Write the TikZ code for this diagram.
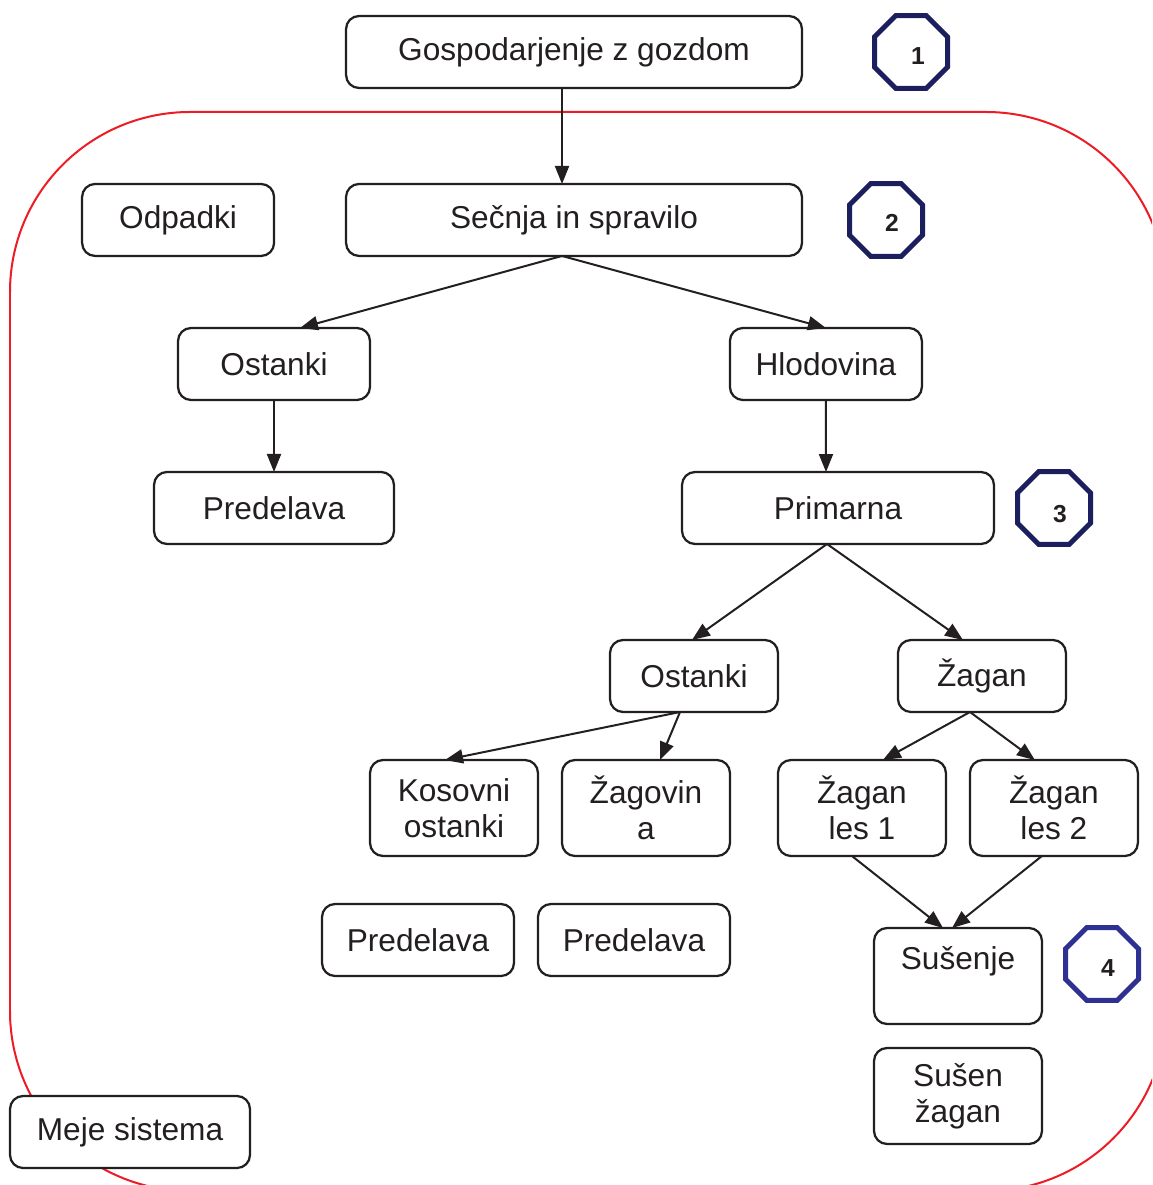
\documentclass[tikz,border=0pt]{standalone}
\usepackage{fontspec}
\setmainfont{Liberation Sans}
\usetikzlibrary{shapes.geometric,arrows.meta,positioning}
\definecolor{ink}{HTML}{231F20}
\definecolor{navy}{HTML}{1B1F5E}
\definecolor{blue4}{HTML}{2E3192}
\definecolor{limit}{HTML}{ED1C24}

\begin{document}
\begin{tikzpicture}[x=0.02cm, y=-0.02cm, >={Triangle[length=0.36cm,width=0.28cm]}]
    \tikzstyle{box}    = [draw=ink, rectangle, rounded corners=0.26cm, line width=0.045cm, fill=white, text=ink, align=center, font=\fontsize{18}{20.5}\selectfont, minimum height=1.44cm, inner sep=0pt, outer sep=0pt]
    \tikzstyle{tall}   = [box, minimum height=1.92cm, minimum width=3.36cm]
    \tikzstyle{octa}   = [draw=navy, regular polygon, regular polygon sides=8, minimum size=1.58cm, inner sep=0pt, line width=0.1cm]
    \tikzstyle{num}    = [text=ink, font=\fontsize{14}{16}\selectfont\bfseries, inner sep=0pt]
    \tikzstyle{arrow}  = [draw=ink, line width=0.04cm, ->]
    \tikzstyle{border} = [draw=limit, line width=0.04cm, rounded corners=3.6cm]

    \useasboundingbox (0,0) rectangle (1152,1185);
    % system boundary
    \begin{scope}
        \clip (0,0) rectangle (1152,1185);
        \draw [border] (10,112) rectangle (1166,1191);
    \end{scope}

    \node [box, minimum width=9.12cm] (gosp) at (574,52) {Gospodarjenje z gozdom};
    \node [box, minimum width=9.12cm, below=1.92cm of gosp] (secnja) {Sečnja in spravilo};
    \node [box, minimum width=3.84cm, left=1.44cm of secnja] (odpadki) {Odpadki};

    \node [box, minimum width=3.84cm] (ostanki) at (274,364) {Ostanki};
    \node [box, minimum width=3.84cm, right=7.2cm of ostanki] (hlod) {Hlodovina};
    \node [box, minimum width=4.8cm, below=1.44cm of ostanki] (pred1) {Predelava};
    \node [box, minimum width=6.24cm] (prim) at (838,508) {Primarna};

    \node [box, minimum width=3.36cm] (ost2) at (694,676) {Ostanki};
    \node [box, minimum width=3.36cm, right=2.4cm of ost2] (zagan) {Žagan};

    \node [tall] (kos) at (454,808) {Kosovni\\ostanki};
    \node [tall, right=0.48cm of kos] (zagov) {Žagovin\\a};
    \node [tall, right=0.96cm of zagov] (les1) {Žagan\\les 1};
    \node [tall, right=0.48cm of les1] (les2) {Žagan\\les 2};

    \node [box, minimum width=3.84cm] (pred2) at (418,940) {Predelava};
    \node [box, minimum width=3.84cm, right=0.48cm of pred2] (pred3) {Predelava};
    \node [tall] (sus) at (958,976) {Sušenje\\\mbox{}};
    \node [tall, below=0.48cm of sus] (susen) {Sušen\\žagan};

    \node [box, minimum width=4.8cm] (meje) at (130,1132) {Meje sistema};

    % numbered stages
    \node [octa] (o1) at (911,52) {};
    \node [octa] (o2) at (886,220) {};
    \node [octa] (o3) at (1054,508) {};
    \node [octa, draw=blue4] (o4) at (1102,964) {};
    \node [num] (d1) at ([shift={(7,4)}]o1.center) {1};
    \node [num] (d2) at ([shift={(6,3)}]o2.center) {2};
    \node [num] (d3) at ([shift={(6,6)}]o3.center) {3};
    \node [num] (d4) at ([shift={(6,4)}]o4.center) {4};

    \draw [arrow] ([xshift=-0.24cm]gosp.south) -- ([xshift=-0.24cm]secnja.north);
    \draw [arrow] ([xshift=-0.24cm]secnja.south) -- ([xshift=0.52cm]ostanki.north);
    \draw [arrow] ([xshift=-0.24cm]secnja.south) -- (hlod.north);

    \draw [arrow] (ostanki) -- (pred1);
    \draw [arrow] (hlod) -- ([xshift=-0.24cm]prim.north);

    \draw [arrow] ([xshift=-0.22cm]prim.south) -- ([xshift=-0.04cm]ost2.north);
    \draw [arrow] ([xshift=-0.22cm]prim.south) -- ([xshift=-0.38cm]zagan.north);

    \draw [arrow] ([xshift=-0.28cm]ost2.south) -- ([xshift=-0.18cm]kos.north);
    \draw [arrow] ([xshift=-0.28cm]ost2.south) -- ([xshift=0.28cm]zagov.north);
    \draw [arrow] ([xshift=-0.24cm]zagan.south) -- ([xshift=0.42cm]les1.north);
    \draw [arrow] ([xshift=-0.24cm]zagan.south) -- ([xshift=-0.38cm]les2.north);

    \draw [arrow] ([xshift=-0.2cm]les1.south) -- ([xshift=-0.3cm]sus.north);
    \draw [arrow] ([xshift=-0.24cm]les2.south) -- ([xshift=-0.12cm]sus.north);
\end{tikzpicture}
\end{document}
